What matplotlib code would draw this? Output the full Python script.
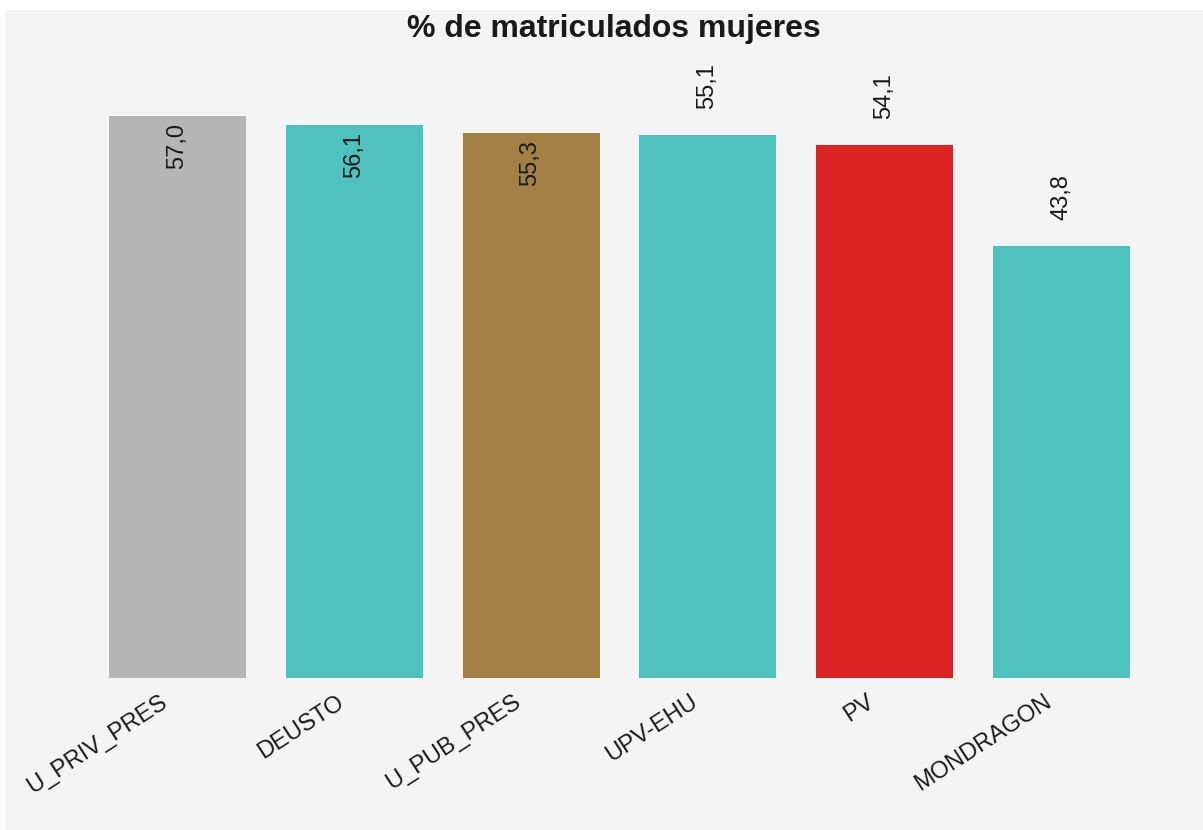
import matplotlib
matplotlib.use('Agg')
import matplotlib.pyplot as plt
import matplotlib.transforms as mtransforms
from matplotlib.patches import Rectangle

categories = ['U_PRIV_PRES', 'DEUSTO', 'U_PUB_PRES', 'UPV-EHU', 'PV', 'MONDRAGON']
values = [57.0, 56.1, 55.3, 55.1, 54.1, 43.8]
colors = ['#b5b5b5', '#4fc1bf', '#a38145', '#4fc1bf', '#dc2424', '#4fc1bf']
title = '% de matriculados mujeres'

plt.rcParams['font.family'] = ['Liberation Sans', 'DejaVu Sans']

W, H = 1203, 830
fig = plt.figure(figsize=(W / 100, H / 100), dpi=100, facecolor='white')
fig.patches.append(Rectangle((5 / W, 0), 1, 820 / H, transform=fig.transFigure,
                             facecolor='#f4f4f4', edgecolor='none', zorder=-10))

ax = fig.add_axes([88.5 / W, 152 / H, 1061 / W, 615.5 / H])
ax.set_facecolor('none')
ax.set_zorder(1)
xpos = list(range(len(categories)))
bars = ax.bar(xpos, values, width=0.78, color=colors, edgecolor='white', linewidth=0.6)
ax.set_xlim(-0.5, len(categories) - 0.5)
ax.set_ylim(0, 62.32)
for s in ax.spines.values():
    s.set_visible(False)
ax.set_yticks([])
ax.set_xticks(xpos)
ax.set_xticklabels(categories, rotation=33, ha='right', va='center',
                   rotation_mode='anchor', fontsize=17, color='#1a1a1a')
ax.tick_params(axis='x', length=0, pad=16)
shift = mtransforms.ScaledTranslation(-12 / 100, 0, fig.dpi_scale_trans)
for lab in ax.get_xticklabels():
    lab.set_transform(lab.get_transform() + shift)

fig.text(614 / W, 1 - 37 / H, title, ha='center', va='baseline',
         fontsize=23, fontweight='bold', color='#1a1a1a', zorder=5)

fig.canvas.draw()
renderer = fig.canvas.get_renderer()
ax_top = ax.get_window_extent(renderer).y1
for b, v in zip(bars, values):
    cx = b.get_x() + b.get_width() / 2
    lbl = f"{v:.1f}".replace('.', ',')
    t = ax.annotate(lbl, (cx, v), xytext=(0, 18), textcoords='offset points',
                    rotation=90, ha='center', va='bottom', fontsize=17,
                    color='#1a1a1a', annotation_clip=False)
    if t.get_window_extent(renderer).y1 > ax_top:
        t.xyann = (0, -6)
        t.set_va('top')

fig.savefig('out.png', dpi=100)
